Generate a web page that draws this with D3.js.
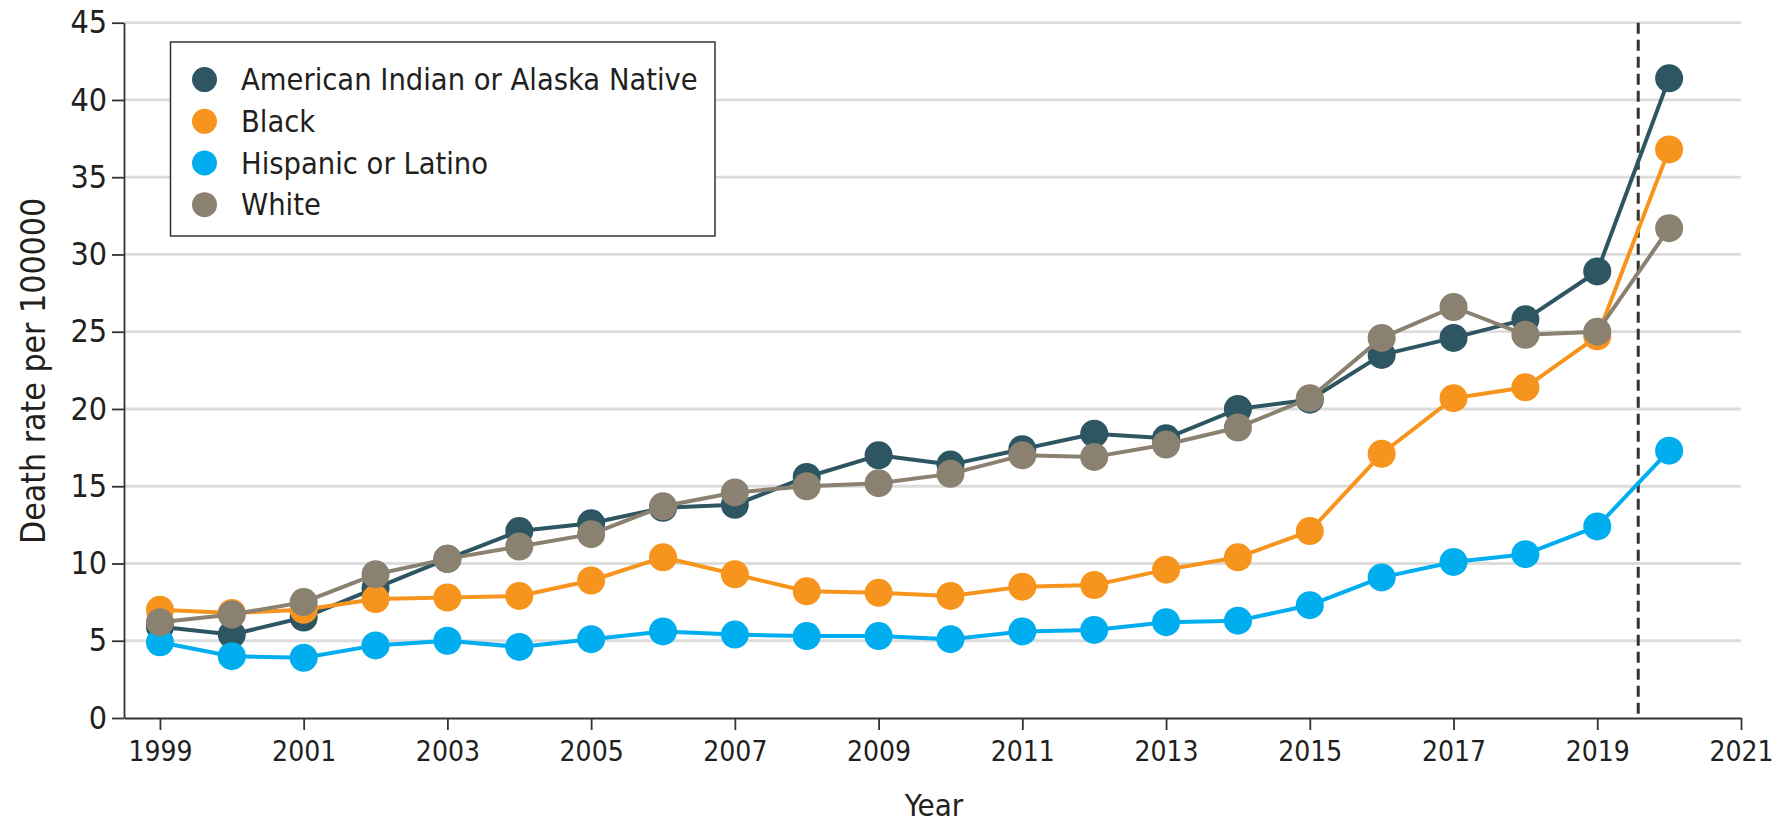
<!DOCTYPE html>
<html>
<head>
<meta charset="utf-8">
<script src="https://cdn.jsdelivr.net/npm/d3@7"></script>
<style>
  body { margin: 0; background: #fff; }
  .narrow { font-family: "Liberation Sans Narrow", "DejaVu Sans Condensed", sans-serif; font-stretch: condensed; }
</style>
</head>
<body>
<div id="chart"></div>
<script>
'use strict';

// Data: death rate per 100000, 1999-2020
var years = d3.range(1999, 2021)
var aian = [5.9, 5.4, 6.5, 8.4, 10.3, 12.1, 12.6, 13.6, 13.8, 15.6, 17.0, 16.4, 17.4, 18.4, 18.1, 20.0, 20.6, 23.5, 24.6, 25.8, 28.9, 41.4]
var black = [7.0, 6.8, 7.0, 7.7, 7.8, 7.9, 8.9, 10.4, 9.3, 8.2, 8.1, 7.9, 8.5, 8.6, 9.6, 10.4, 12.1, 17.1, 20.7, 21.4, 24.7, 36.8]
var hispanic = [4.9, 4.0, 3.9, 4.7, 5.0, 4.6, 5.1, 5.6, 5.4, 5.3, 5.3, 5.1, 5.6, 5.7, 6.2, 6.3, 7.3, 9.1, 10.1, 10.6, 12.4, 17.3]
var white = [6.2, 6.7, 7.5, 9.3, 10.3, 11.1, 11.9, 13.7, 14.6, 15.0, 15.2, 15.8, 17.0, 16.9, 17.7, 18.8, 20.7, 24.6, 26.6, 24.8, 25.0, 31.7]

var seriesNames = ['American Indian or Alaska Native', 'Black', 'Hispanic or Latino', 'White']
var seriesColors = ['#2e5662', '#f7941d', '#00aeef', '#8a8170']
var seriesValues = [aian, black, hispanic, white]

var xTicks = d3.range(1999, 2022, 2)
var yTicks = d3.range(0, 46, 5)
var dividerYear = 2019.57

// Setup: dimensions
var W = 1782, H = 822
var margin = {top: 22.7, right: 41, bottom: 104, left: 124}
var width = W - margin.left - margin.right
var height = H - margin.top - margin.bottom

var x = d3.scaleLinear().domain([1998.5, 2021]).range([0, width])
var y = d3.scaleLinear().domain([0, 45]).range([height, 0])

var svg = d3.select('#chart').append('svg')
  .attr('width', W)
  .attr('height', H)

var g = svg.append('g')
  .attr('transform', 'translate(' + margin.left + ',' + margin.top + ')')

// Gridlines
g.append('g')
  .selectAll('line')
  .data(yTicks.filter(function(d){ return d > 0 }))
  .enter().append('line')
    .attr('x1', 0)
    .attr('x2', width)
    .attr('y1', function(d){ return y(d) })
    .attr('y2', function(d){ return y(d) })
    .attr('stroke', '#dcdcdc')
    .attr('stroke-width', 2.8)

// Axes
var xAxis = d3.axisBottom(x)
  .tickValues(xTicks)
  .tickFormat(d3.format('d'))
  .tickSize(12)
  .tickSizeOuter(0)
  .tickPadding(11)
var yAxis = d3.axisLeft(y)
  .tickValues(yTicks)
  .tickSize(12)
  .tickSizeOuter(0)
  .tickPadding(5)

var gx = g.append('g')
  .attr('transform', 'translate(0,' + height + ')')
  .call(xAxis)
gx.selectAll('text')
  .attr('class', 'narrow')
  .attr('font-size', 28)
  .attr('fill', '#231f20')

var gy = g.append('g').call(yAxis)
gy.selectAll('text')
  .attr('class', 'narrow')
  .attr('font-size', 32)
  .attr('fill', '#231f20')

g.selectAll('.domain').attr('stroke', '#333').attr('stroke-width', 1.8)
g.selectAll('.tick line').attr('stroke', '#333').attr('stroke-width', 1.8)

// Divider
g.append('line')
  .attr('x1', x(dividerYear)).attr('x2', x(dividerYear))
  .attr('y1', y(45)).attr('y2', height)
  .attr('stroke', '#333')
  .attr('stroke-width', 3)
  .attr('stroke-dasharray', '11,6')

// Lines + dots
var line = d3.line()
  .x(function(d){ return x(d.year) })
  .y(function(d){ return y(d.value) })

seriesValues.forEach(function(vals, i){
  var data = years.map(function(yr, j){ return {year: yr, value: vals[j]} })
  var s = g.append('g')
  s.append('path')
    .datum(data)
    .attr('fill', 'none')
    .attr('stroke', seriesColors[i])
    .attr('stroke-width', 4)
    .attr('stroke-linejoin', 'round')
    .attr('d', line)
  s.selectAll('circle')
    .data(data)
    .enter().append('circle')
      .attr('cx', function(d){ return x(d.year) })
      .attr('cy', function(d){ return y(d.value) })
      .attr('r', 14)
      .attr('fill', seriesColors[i])
})

// Legend
var legend = svg.append('g')
  .attr('transform', 'translate(170.5,42)')
legend.append('rect')
  .attr('width', 544.5)
  .attr('height', 194)
  .attr('fill', '#fff')
  .attr('stroke', '#333')
  .attr('stroke-width', 1.5)
seriesNames.forEach(function(name, i){
  var row = legend.append('g')
    .attr('transform', 'translate(0,' + (37.6 + i * 41.7) + ')')
  row.append('circle')
    .attr('cx', 34)
    .attr('r', 12.5)
    .attr('fill', seriesColors[i])
  row.append('text')
    .attr('class', 'narrow')
    .attr('x', 70.5)
    .attr('dy', '0.35em')
    .attr('font-size', 30.5)
    .attr('fill', '#231f20')
    .text(name)
})

// Axis titles
svg.append('text')
  .attr('class', 'narrow')
  .attr('transform', 'translate(33,371) rotate(-90)')
  .attr('text-anchor', 'middle')
  .attr('dy', '0.35em')
  .attr('font-size', 33.5)
  .attr('fill', '#231f20')
  .text('Death rate per 100000')

svg.append('text')
  .attr('class', 'narrow')
  .attr('x', 934)
  .attr('y', 816)
  .attr('text-anchor', 'middle')
  .attr('font-size', 31)
  .attr('fill', '#231f20')
  .text('Year')
</script>
</body>
</html>
